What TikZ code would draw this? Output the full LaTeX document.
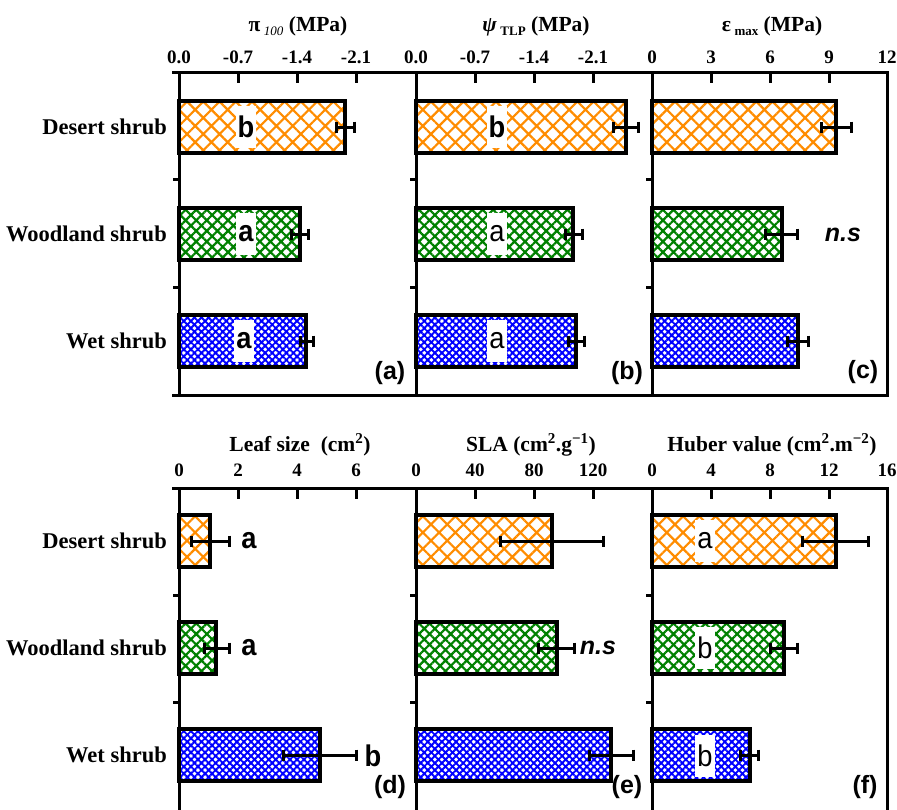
\documentclass[tikz,border=0pt]{standalone}
\usepackage{fontspec}
\usepackage{graphicx}
\setmainfont{Liberation Serif}
\newfontfamily\arialf{Liberation Sans}
\usetikzlibrary{patterns.meta}
\definecolor{cOrange}{HTML}{FF8C00}
\definecolor{cGreen}{HTML}{008000}
\definecolor{cBlue}{HTML}{0000FF}
\newcommand\sigl[1]{\scalebox{1.05}[1.15]{#1}}
\newcommand\mybar[4]{\draw[#1] (#2,#3-26) rectangle (#4,#3+26);}
\newcommand\errbar[3]{\draw[ebar] (#1,#3-5.5) -- (#1,#3+5.5) (#1,#3) -- (#2,#3) (#2,#3-5.5) -- (#2,#3+5.5);}
\begin{document}
\begin{tikzpicture}[x=1pt,y=-1pt,
  axis/.style={line width=3pt},
  barbox/.style={line width=3.3pt},
  desert/.style={barbox, pattern={Hatch[angle=45,distance=11.5pt,line width=2.2pt]}, pattern color=cOrange},
  wood/.style={barbox, pattern={Hatch[angle=45,distance=7.5pt,line width=2.2pt]}, pattern color=cGreen},
  wet/.style={barbox, pattern={Hatch[angle=45,distance=5pt,line width=1.9pt]}, pattern color=cBlue},
  ebar/.style={line width=3pt},
  ticklab/.style={font=\fontsize{19}{19}\selectfont\bfseries, inner sep=0pt},
  title/.style={font=\fontsize{21.5}{22}\selectfont\bfseries, inner sep=0pt},
  cat/.style={font=\fontsize{22.5}{23}\selectfont\bfseries, anchor=east, inner sep=0pt},
  sigb/.style={font=\arialf\fontsize{26}{26}\selectfont\bfseries, fill=white, inner xsep=2pt, inner ysep=0pt, minimum height=42pt},
  sigr/.style={font=\arialf\fontsize{26}{26}\selectfont, fill=white, inner xsep=2pt, inner ysep=0pt, minimum height=42pt},
  sigo/.style={font=\arialf\fontsize{26}{26}\selectfont\bfseries, inner sep=0pt},
  ns/.style={font=\arialf\fontsize{25}{26}\selectfont\bfseries\itshape, inner sep=0pt},
  plab/.style={font=\arialf\fontsize{25}{26}\selectfont\bfseries, inner sep=0pt}
]
\useasboundingbox (0,0) rectangle (897,809);

% ---------------- bars top row ----------------
\mybar{desert}{179}{127}{345}
\mybar{wood}{179}{234}{300}
\mybar{wet}{179}{341}{306}
\mybar{desert}{416}{127}{626}
\mybar{wood}{416}{234}{573}
\mybar{wet}{416}{341}{576}
\mybar{desert}{652}{127}{836}
\mybar{wood}{652}{234}{782}
\mybar{wet}{652}{341}{798}
% ---------------- bars bottom row ----------------
\mybar{desert}{179}{541}{210}
\mybar{wood}{179}{648}{216}
\mybar{wet}{179}{755}{320}
\mybar{desert}{416}{541}{552}
\mybar{wood}{416}{648}{557}
\mybar{wet}{416}{755}{611}
\mybar{desert}{652}{541}{836}
\mybar{wood}{652}{648}{784}
\mybar{wet}{652}{755}{750}

% ---------------- significance letters ----------------
\node[sigb] (la1) at (246,127) {\sigl{b}};
\node[sigb] (la2) at (246,234) {\sigl{a}};
\node[sigb] (la3) at (244,341) {\sigl{a}};
\node[sigb] (lb1) at (497,127) {\sigl{b}};
\node[sigr] (lb2) at (497,234) {\sigl{a}};
\node[sigr] (lb3) at (497,341) {\sigl{a}};
\node[ns] (lc2) at (843,235) {n.s};
\node[sigo] (ld1) at (249,541) {\sigl{a}};
\node[sigo] (ld2) at (249,648) {\sigl{a}};
\node[sigo] (ld3) at (373,756) {\sigl{b}};
\node[ns] (le2) at (598,648) {n.s};
\node[sigr] (lf1) at (705,541) {\sigl{a}};
\node[sigr] (lf2) at (705,648) {\sigl{b}};
\node[sigr] (lf3) at (705,756) {\sigl{b}};

% ---------------- error bars ----------------
\errbar{336}{354}{127}
\errbar{291}{308}{234}
\errbar{300}{313}{341}
\errbar{613}{638}{127}
\errbar{565}{582}{234}
\errbar{568}{584}{341}
\errbar{821}{851}{127}
\errbar{765}{797}{234}
\errbar{787}{808}{341}
\errbar{191}{229}{541}
\errbar{204}{229}{648}
\errbar{283}{356}{755}
\errbar{500}{603}{541}
\errbar{538}{574}{648}
\errbar{589}{633}{755}
\errbar{802}{868}{541}
\errbar{770}{797}{648}
\errbar{740}{758}{755}

% ---------------- frames top row ----------------
\draw[axis] (172,72) -- (887,72) -- (887,395) -- (172,395);
\foreach \x in {179,416,652} {
  \draw[axis] (\x,72) -- (\x,395);
  \draw[axis] (\x-6,179) -- (\x,179);
  \draw[axis] (\x-6,287) -- (\x,287);
  \foreach \k in {1,2,3} { \draw[axis] (\x+59*\k,72) -- (\x+59*\k,83); }
}
% ---------------- frames bottom row ----------------
\draw[axis] (172,488) -- (887,488) -- (887,812);
\foreach \x in {179,416,652} {
  \draw[axis] (\x,488) -- (\x,812);
  \draw[axis] (\x-6,595) -- (\x,595);
  \draw[axis] (\x-6,702) -- (\x,702);
  \foreach \k in {1,2,3} { \draw[axis] (\x+59*\k,488) -- (\x+59*\k,499); }
}

% ---------------- tick labels ----------------
\node[ticklab] (ta0) at (179,57) {0.0};
\node[ticklab] (ta1) at (238,57) {-0.7};
\node[ticklab] (ta2) at (297,57) {-1.4};
\node[ticklab] (ta3) at (356,57) {-2.1};
\node[ticklab] (tb0) at (416,57) {0.0};
\node[ticklab] (tb1) at (475,57) {-0.7};
\node[ticklab] (tb2) at (534,57) {-1.4};
\node[ticklab] (tb3) at (593,57) {-2.1};
\node[ticklab] (tc0) at (652,57) {0};
\node[ticklab] (tc1) at (711,57) {3};
\node[ticklab] (tc2) at (770,57) {6};
\node[ticklab] (tc3) at (829,57) {9};
\node[ticklab] (tc4) at (887,57) {12};
\node[ticklab] (td0) at (179,470) {0};
\node[ticklab] (td1) at (238,470) {2};
\node[ticklab] (td2) at (297,470) {4};
\node[ticklab] (td3) at (356,470) {6};
\node[ticklab] (te0) at (416,470) {0};
\node[ticklab] (te1) at (475,470) {40};
\node[ticklab] (te2) at (534,470) {80};
\node[ticklab] (te3) at (593,470) {120};
\node[ticklab] (tf0) at (652,470) {0};
\node[ticklab] (tf1) at (711,470) {4};
\node[ticklab] (tf2) at (770,470) {8};
\node[ticklab] (tf3) at (829,470) {12};
\node[ticklab] (tf4) at (887,470) {16};

% ---------------- titles ----------------
\node[title] (tta) at (298,26) {π\,\raisebox{-0.45ex}{\fontsize{13}{13}\selectfont\mdseries\itshape 100} (MPa)};
\node[title] (ttb) at (536,26) {\textit{ψ}\,\raisebox{-0.45ex}{\fontsize{13}{13}\selectfont TLP} (MPa)};
\node[title] (ttc) at (772,26) {ε\,\raisebox{-0.45ex}{\fontsize{13}{13}\selectfont max} (MPa)};
\node[title] (ttd) at (300,445) {Leaf size\ \ (cm\textsuperscript{2})};
\node[title] (tte) at (531,445) {SLA (cm\textsuperscript{2}.g\textsuperscript{−1})};
\node[title] (ttf) at (772,445) {Huber value (cm\textsuperscript{2}.m\textsuperscript{−2})};

% ---------------- categories ----------------
\node[cat] (c1) at (167,127) {Desert shrub};
\node[cat] (c2) at (167,234) {Woodland shrub};
\node[cat] (c3) at (167,341) {Wet shrub};
\node[cat] (c4) at (167,541) {Desert shrub};
\node[cat] (c5) at (167,648) {Woodland shrub};
\node[cat] (c6) at (167,755) {Wet shrub};

% ---------------- panel labels ----------------
\node[plab] (pa) at (390,373) {(a)};
\node[plab] (pb) at (627,373) {(b)};
\node[plab] (pc) at (863,372) {(c)};
\node[plab] (pd) at (390,787) {(d)};
\node[plab] (pe) at (627,787) {(e)};
\node[plab] (pf) at (865,787) {(f)};
\end{tikzpicture}
\end{document}
